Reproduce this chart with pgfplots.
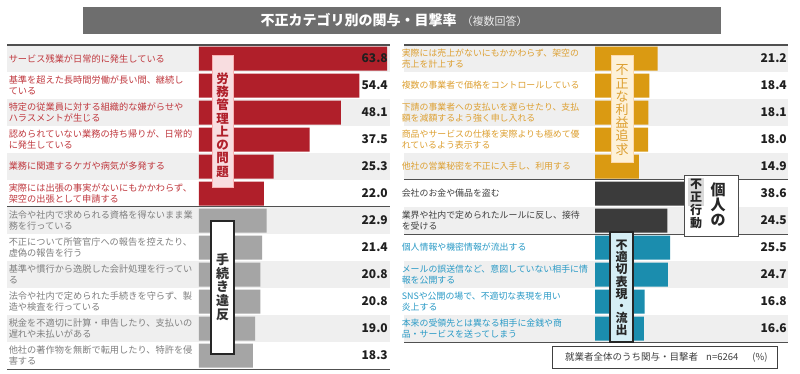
\documentclass[border=0pt]{standalone}
\usepackage{pgfplots}
\pgfplotsset{compat=1.18}
\usepackage{fontspec}
\setmainfont{Noto Sans CJK JP}
\definecolor{cRed}{HTML}{B01F2A}
\definecolor{cRedLab}{HTML}{C0393F}
\definecolor{cRedBox}{HTML}{F8DDE0}
\definecolor{cGray}{HTML}{A5A5A5}
\definecolor{cGrayLab}{HTML}{7F7F7F}
\definecolor{cOrange}{HTML}{DA9A12}
\definecolor{cOrangeLab}{HTML}{DDA032}
\definecolor{cOrangeBox}{HTML}{FDF1D8}
\definecolor{cBlack}{HTML}{3B3B3B}
\definecolor{cBlackLab}{HTML}{404040}
\definecolor{cBlue}{HTML}{1B8DAE}
\definecolor{cBlueLab}{HTML}{2A9AC6}
\definecolor{cBlueBox}{HTML}{D5EEF5}
\definecolor{rowShade}{HTML}{EFEFEF}
\definecolor{titleGray}{HTML}{6E6E6E}
\definecolor{sepLine}{HTML}{505050}

\pgfplotsset{
  panel/.style={
    scale only axis, clip=false, y dir=reverse,
    xtick=\empty,
    axis line style={draw=none}, tick style={draw=none}, major tick length=0pt,
    yticklabel style={anchor=east, text width=188pt, align=left,
      font=\fontsize{9.2}{10.6}\selectfont, inner sep=0pt, xshift=-2pt},
    /pgf/number format/assume math mode=true,
  },
  bars/.style={xbar, bar width=24pt, bar shift=0pt, draw=none, fill=#1},
  vals/.style={draw=none, mark=none, point meta=explicit,
    nodes near coords={\pgfmathprintnumber[fixed,fixed zerofill,precision=1]{\pgfplotspointmeta}},
    every node near coord/.append style={anchor=east, inner sep=0pt,
      font=\fontsize{12}{12}\selectfont\bfseries, text=black!88}},
}

\begin{document}
\begin{tikzpicture}
\fill[white] (0pt,0pt) rectangle (800pt,-374pt);
\path[use as bounding box] (0pt,0pt) rectangle (800pt,-374pt);

% title
\fill[titleGray] (83pt,-7pt) rectangle (721pt,-34pt);
\node[text=white, inner sep=0pt] at (394pt,-20.5pt)
  {{\fontsize{14}{14}\selectfont\bfseries 不正カテゴリ別の関与・目撃率}\hspace{5pt}{\fontsize{11}{11}\selectfont\color{white!85!gray}（複数回答）}};

% row shading
\foreach \k in {1,3,5,7,9,11} {
  \fill[rowShade] (7pt,{-45pt-27pt*(\k-1)}) rectangle (390pt,{-45pt-27pt*\k});
  \fill[rowShade] (404pt,{-45pt-27pt*(\k-1)}) rectangle (788pt,{-45pt-27pt*\k});
}

% left panel
\begin{axis}[panel, at={(199pt,-45pt)}, anchor=north west,
  width=189pt, height=324pt, xmin=0, xmax=64.07, ymin=0.5, ymax=12.5,
  ytick={1,...,12},
  yticklabels={
    {\color{cRedLab}サービス残業が日常的に発生している},
    {\color{cRedLab}基準を超えた長時間労働が長い間、継続し\\ている},
    {\color{cRedLab}特定の従業員に対する組織的な嫌がらせや\\ハラスメントが生じる},
    {\color{cRedLab}認められていない業務の持ち帰りが、日常的\\に発生している},
    {\color{cRedLab}業務に関連するケガや病気が多発する},
    {\color{cRedLab}実際には出張の事実がないにもかかわらず、\\架空の出張として申請する},
    {\color{cGrayLab}法令や社内で求められる資格を得ないまま業\\務を行っている},
    {\color{cGrayLab}不正について所管官庁への報告を控えたり、\\虚偽の報告を行う},
    {\color{cGrayLab}基準や慣行から逸脱した会計処理を行ってい\\る},
    {\color{cGrayLab}法令や社内で定められた手続きを守らず、製\\造や検査を行っている},
    {\color{cGrayLab}税金を不適切に計算・申告したり、支払いの\\遅れや未払いがある},
    {\color{cGrayLab}他社の著作物を無断で転用したり、特許を侵\\害する}
  }]
\addplot[bars=cRed] coordinates {(63.8,1) (54.4,2) (48.1,3) (37.5,4) (25.3,5) (22.0,6)};
\addplot[bars=cGray] coordinates {(22.9,7) (21.4,8) (20.8,9) (20.8,10) (19.0,11) (18.3,12)};
\addplot[vals] coordinates {(64.07,1)[63.8] (64.07,2)[54.4] (64.07,3)[48.1] (64.07,4)[37.5]
  (64.07,5)[25.3] (64.07,6)[22.0] (64.07,7)[22.9] (64.07,8)[21.4] (64.07,9)[20.8]
  (64.07,10)[20.8] (64.07,11)[19.0] (64.07,12)[18.3]};
\end{axis}

% right panel
\begin{axis}[panel, at={(595pt,-45pt)}, anchor=north west,
  width=192pt, height=297pt, xmin=0, xmax=65.08, ymin=0.5, ymax=11.5,
  ytick={1,...,11},
  yticklabel style={text width=190pt, xshift=-1pt, font=\fontsize{8.9}{10.5}\selectfont},
  yticklabels={
    {\color{cOrangeLab}実際には売上がないにもかかわらず、架空の\\売上を計上する},
    {\color{cOrangeLab}複数の事業者で価格をコントロールしている},
    {\color{cOrangeLab}下請の事業者への支払いを遅らせたり、支払\\額を減額するよう強く申し入れる},
    {\color{cOrangeLab}商品やサービスの仕様を実際よりも極めて優\\れているよう表示する},
    {\color{cOrangeLab}他社の営業秘密を不正に入手し、利用する},
    {\color{cBlackLab}会社のお金や備品を盗む},
    {\color{cBlackLab}業界や社内で定められたルールに反し、接待\\を受ける},
    {\color{cBlueLab}個人情報や機密情報が流出する},
    {\color{cBlueLab}メールの誤送信など、意図していない相手に情\\報を公開する},
    {\color{cBlueLab}SNSや公開の場で、不適切な表現を用い\\炎上する},
    {\color{cBlueLab}本来の受領先とは異なる相手に金銭や商\\品・サービスを送ってしまう}
  }]
\addplot[bars=cOrange] coordinates {(21.2,1) (18.4,2) (18.1,3) (18.0,4) (14.9,5)};
\addplot[bars=cBlack] coordinates {(38.6,6) (24.5,7)};
\addplot[bars=cBlue] coordinates {(25.5,8) (24.7,9) (16.8,10) (16.6,11)};
\addplot[vals] coordinates {(65.08,1)[21.2] (65.08,2)[18.4] (65.08,3)[18.1] (65.08,4)[18.0]
  (65.08,5)[14.9] (65.08,6)[38.6] (65.08,7)[24.5] (65.08,8)[25.5] (65.08,9)[24.7]
  (65.08,10)[16.8] (65.08,11)[16.6]};
\end{axis}

% separator lines
\draw[sepLine, line width=1.2pt] (7pt,-45pt) -- (390pt,-45pt);
\draw[sepLine, line width=1pt] (7pt,-207pt) -- (390pt,-207pt);
\draw[sepLine, line width=1pt] (7pt,-369pt) -- (390pt,-369pt);
\draw[sepLine, line width=1.2pt] (404pt,-45pt) -- (788pt,-45pt);
\draw[sepLine, line width=1pt] (404pt,-180pt) -- (788pt,-180pt);
\draw[sepLine, line width=1pt] (404pt,-234pt) -- (788pt,-234pt);
\draw[sepLine, line width=1pt] (404pt,-342pt) -- (788pt,-342pt);

% category boxes
\filldraw[fill=cRedBox, draw=cRedBox!80!red, line width=0.6pt] (212pt,-55pt) rectangle (233pt,-187pt);
\node[text=cRed, align=center, inner sep=0pt, font=\fontsize{12.5}{13.3}\selectfont\bfseries]
  at (222.5pt,-125pt) {労\\務\\管\\理\\上\\の\\問\\題};

\filldraw[fill=white, draw=black!85, line width=1.2pt] (211pt,-221pt) rectangle (234pt,-354pt);
\node[text=black!80, align=center, inner sep=0pt, font=\fontsize{13}{13.8}\selectfont\bfseries]
  at (222.5pt,-287pt) {手\\続\\き\\違\\反};

\filldraw[fill=cOrangeBox, draw=cOrangeBox!80!orange, line width=0.6pt] (611pt,-55pt) rectangle (633pt,-162pt);
\node[text=cOrangeLab, align=center, inner sep=0pt, font=\fontsize{13}{13.2}\selectfont]
  at (622pt,-110pt) {不\\正\\な\\利\\益\\追\\求};

\filldraw[fill=white, draw=black!70, line width=0.8pt] (684pt,-175pt) rectangle (738pt,-236pt);
\fill[black!15] (688pt,-178pt) rectangle (704pt,-206pt);
\node[text=black!85, align=center, inner sep=0pt, font=\fontsize{12}{13}\selectfont\bfseries]
  at (696pt,-204pt) {不\\正\\行\\動};
\node[text=black!85, align=center, inner sep=0pt, font=\fontsize{15}{15}\selectfont\bfseries]
  at (718pt,-205pt) {個\\人\\の};

\filldraw[fill=cBlueBox, draw=black!85, line width=1.2pt] (610pt,-232pt) rectangle (633pt,-342pt);
\node[text=black!85, align=center, inner sep=0pt, font=\fontsize{12}{12.2}\selectfont\bfseries]
  at (621.5pt,-288pt) {不\\適\\切\\表\\現\\・\\流\\出};

% note box
\filldraw[fill=white, draw=black!75, line width=0.8pt] (552pt,-346pt) rectangle (777pt,-368pt);
\node[text=black!75, anchor=west, inner sep=0pt, font=\fontsize{9.5}{10}\selectfont]
  at (565pt,-357pt) {就業者全体のうち関与・目撃者\hspace{8pt}n=6264\hspace{14pt}(\%)};
\end{tikzpicture}
\end{document}
